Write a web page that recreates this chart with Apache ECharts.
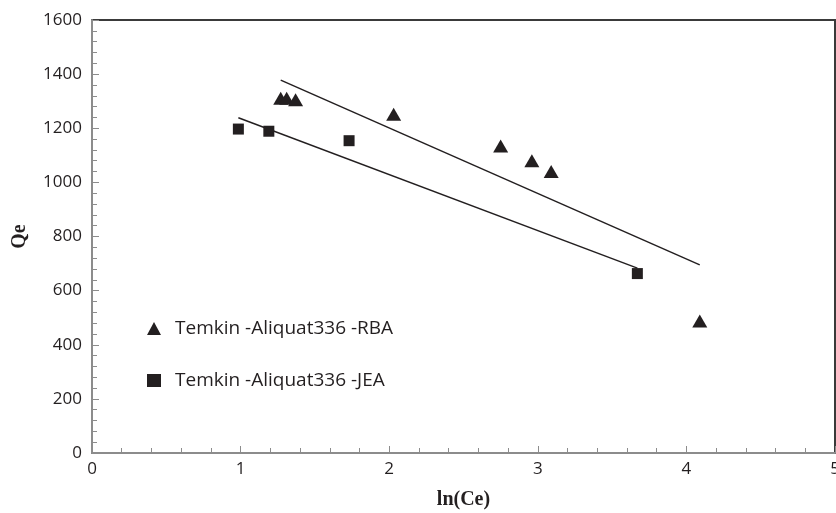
<!DOCTYPE html>
<html>
<head>
<meta charset="utf-8">
<script src="https://cdn.jsdelivr.net/npm/echarts@6/dist/echarts.min.js"></script>
<style>
  html, body { margin: 0; padding: 0; background: #fff; }
  #chart { width: 836px; height: 513px; }
</style>
</head>
<body>
<div id="chart"></div>
<script>
// measured points, ln(Ce) vs Qe
const rbaX = [1.27, 1.31, 1.37, 2.03, 2.75, 2.96, 3.09, 4.09]
const rbaY = [1311, 1311, 1305, 1252, 1134, 1080, 1040, 488]
const jeaX = [0.985, 1.19, 1.73, 3.67]
const jeaY = [1197, 1189, 1154, 663]
// linear fit end points
const rbaFitX = [1.27, 4.09]
const rbaFitY = [1378, 695]
const jeaFitX = [0.985, 3.67]
const jeaFitY = [1239, 683]

const rbaName = 'Temkin -Aliquat336 -RBA'
const jeaName = 'Temkin -Aliquat336 -JEA'

const pairs = (xs, ys) => xs.map((x, i) => [x, ys[i]])
const ink = '#231f20'
const axisGray = '#8c8c8c'
const font = '"Open Sans", sans-serif'
const serif = '"Liberation Serif", serif'

const chart = echarts.init(document.getElementById('chart'))
chart.setOption({
  backgroundColor: '#fff',
  animation: false,
  grid: {
    left: 92,
    right: 1,
    top: 20,
    bottom: 60,
    outerBoundsMode: 'none',
    show: true,
    borderColor: '#3a3a3a',
    borderWidth: 2
  },
  legend: {
    orient: 'vertical',
    left: 142,
    top: 314,
    itemGap: 33,
    itemWidth: 14,
    itemHeight: 13,
    data: [
      { name: rbaName, icon: 'triangle' },
      { name: jeaName, icon: 'rect' }
    ],
    textStyle: { fontFamily: font, fontSize: 19, color: ink, padding: [0, 0, 0, 9] }
  },
  xAxis: {
    type: 'value',
    min: 0,
    max: 5,
    interval: 1,
    name: 'ln(Ce)',
    nameLocation: 'middle',
    nameGap: 37,
    nameTextStyle: { fontFamily: serif, fontWeight: 'bold', fontSize: 20, color: ink },
    axisLine: { lineStyle: { color: axisGray, width: 2 } },
    axisTick: { inside: true, length: 7, lineStyle: { color: axisGray } },
    minorTick: { show: true, splitNumber: 5, length: 5, lineStyle: { color: axisGray } },
    axisLabel: { fontFamily: font, fontSize: 17, color: ink, margin: 8, formatter: v => String(v) },
    splitLine: { show: false }
  },
  yAxis: {
    type: 'value',
    min: 0,
    max: 1600,
    interval: 200,
    name: 'Qe',
    nameLocation: 'middle',
    nameGap: 62,
    nameTextStyle: { fontFamily: serif, fontWeight: 'bold', fontSize: 20, color: ink },
    axisLine: { lineStyle: { color: axisGray, width: 2 } },
    axisTick: { inside: true, length: 7, lineStyle: { color: axisGray } },
    minorTick: { show: true, splitNumber: 5, length: 5, lineStyle: { color: axisGray } },
    axisLabel: { fontFamily: font, fontSize: 17, color: ink, margin: 10, formatter: v => String(v) },
    splitLine: { show: false }
  },
  series: [
    {
      name: rbaName,
      type: 'scatter',
      symbol: 'triangle',
      symbolSize: [15, 13],
      itemStyle: { color: ink, opacity: 1 },
      data: pairs(rbaX, rbaY),
      z: 3
    },
    {
      name: jeaName,
      type: 'scatter',
      symbol: 'rect',
      symbolSize: 11,
      itemStyle: { color: ink, opacity: 1 },
      data: pairs(jeaX, jeaY),
      z: 3
    },
    {
      name: 'rbaFit',
      type: 'line',
      symbol: 'none',
      lineStyle: { color: ink, width: 1.5 },
      data: pairs(rbaFitX, rbaFitY)
    },
    {
      name: 'jeaFit',
      type: 'line',
      symbol: 'none',
      lineStyle: { color: ink, width: 1.5 },
      data: pairs(jeaFitX, jeaFitY)
    }
  ]
})
</script>
</body>
</html>
